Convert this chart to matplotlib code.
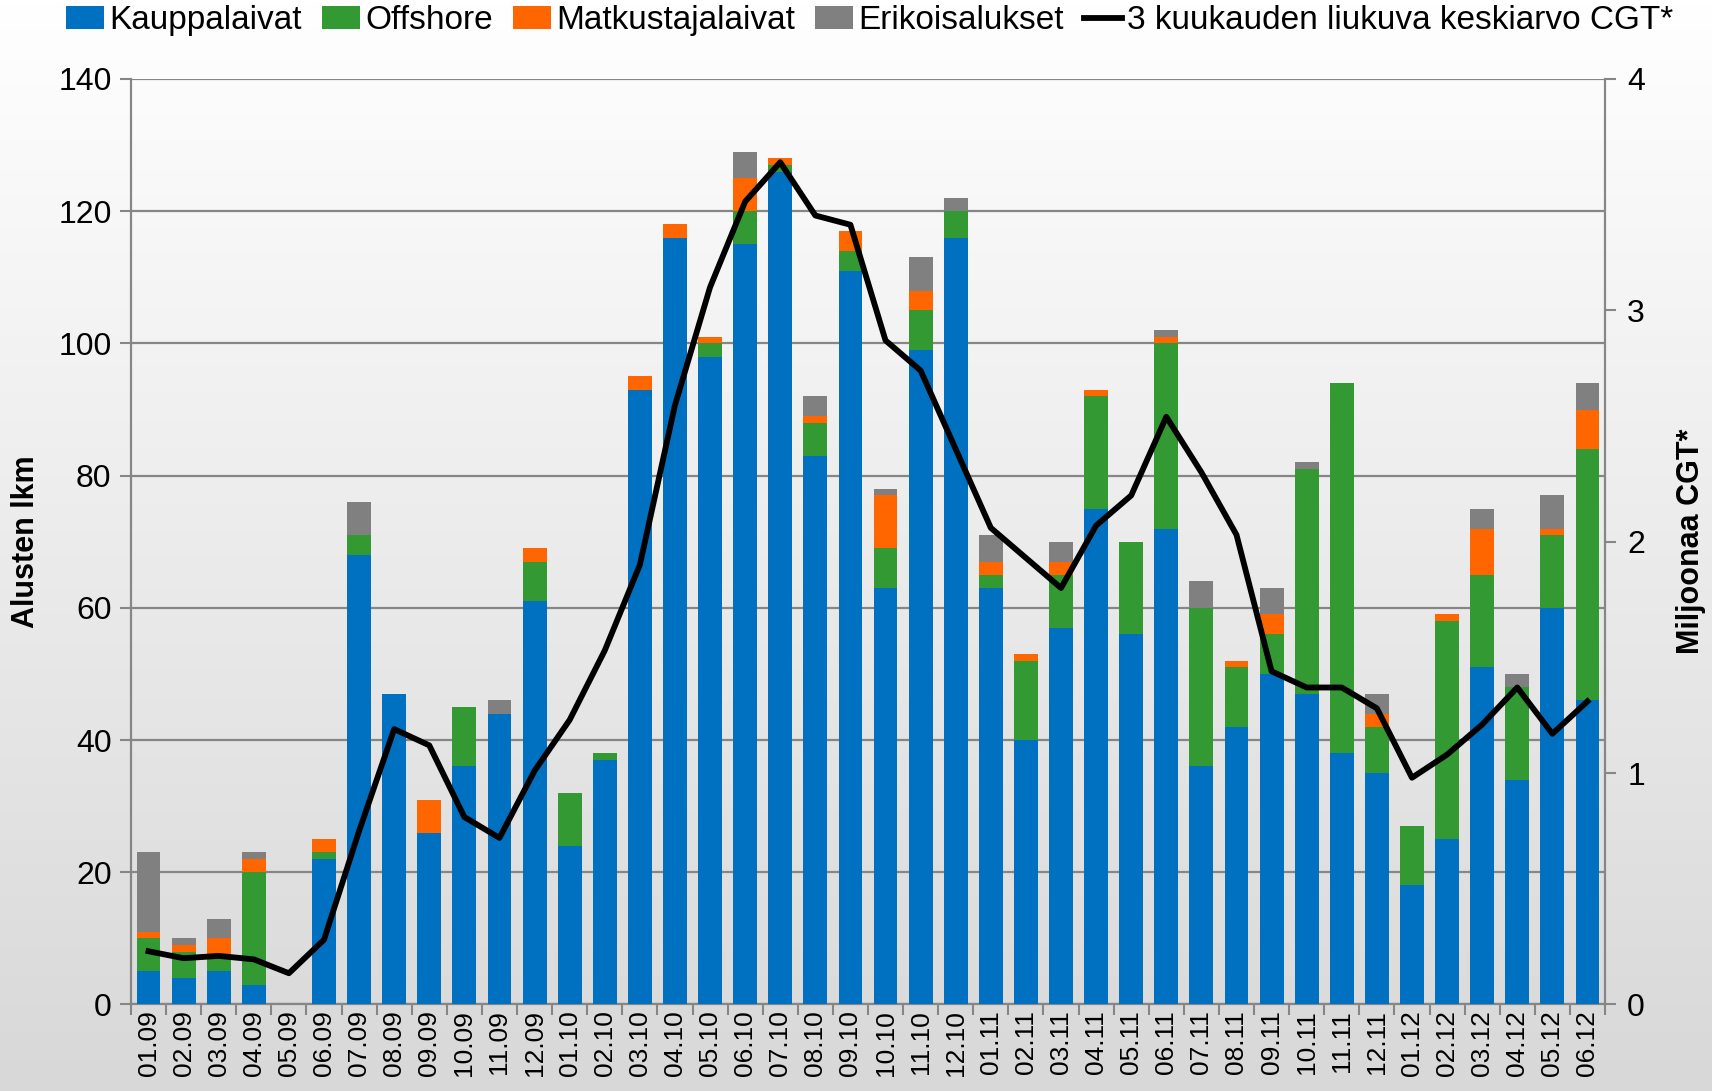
import numpy as np
import matplotlib
matplotlib.use("Agg")
import matplotlib.pyplot as plt
from matplotlib.colors import LinearSegmentedColormap

plt.rcParams['font.family'] = ['Liberation Sans', 'DejaVu Sans']

months = ['01.09', '02.09', '03.09', '04.09', '05.09', '06.09', '07.09', '08.09', '09.09', '10.09', '11.09', '12.09',
          '01.10', '02.10', '03.10', '04.10', '05.10', '06.10', '07.10', '08.10', '09.10', '10.10', '11.10', '12.10',
          '01.11', '02.11', '03.11', '04.11', '05.11', '06.11', '07.11', '08.11', '09.11', '10.11', '11.11', '12.11',
          '01.12', '02.12', '03.12', '04.12', '05.12', '06.12']

kauppa = [5, 4, 5, 3, 0, 22, 68, 47, 26, 36, 44, 61,
          24, 37, 93, 116, 98, 115, 126, 83, 111, 63, 99, 116,
          63, 40, 57, 75, 56, 72, 36, 42, 50, 47, 38, 35,
          18, 25, 51, 34, 60, 46]
offshore = [5, 4, 2, 17, 0, 1, 3, 0, 0, 9, 0, 6,
            8, 1, 0, 0, 2, 5, 1, 5, 3, 6, 6, 4,
            2, 12, 8, 17, 14, 28, 24, 9, 6, 34, 56, 7,
            9, 33, 14, 14, 11, 38]
matkustaja = [1, 1, 3, 2, 0, 2, 0, 0, 5, 0, 0, 2,
              0, 0, 2, 2, 1, 5, 1, 1, 3, 8, 3, 0,
              2, 1, 2, 1, 0, 1, 0, 1, 3, 0, 0, 2,
              0, 1, 7, 0, 1, 6]
erikois = [12, 1, 3, 1, 0, 0, 5, 0, 0, 0, 2, 0,
           0, 0, 0, 0, 0, 4, 0, 3, 0, 1, 5, 2,
           4, 0, 3, 0, 0, 1, 4, 0, 4, 1, 0, 3,
           0, 0, 3, 2, 5, 4]
cgt_avg = [0.23, 0.20, 0.21, 0.195, 0.135, 0.28, 0.75, 1.19, 1.12, 0.81, 0.72, 1.01,
           1.23, 1.53, 1.90, 2.59, 3.10, 3.47, 3.64, 3.41, 3.37, 2.87, 2.74, 2.40,
           2.06, 1.93, 1.80, 2.07, 2.20, 2.54, 2.30, 2.03, 1.44, 1.37, 1.37, 1.28,
           0.98, 1.08, 1.21, 1.37, 1.17, 1.31]

series = [('Kauppalaivat', kauppa, '#0070C0'),
          ('Offshore', offshore, '#339933'),
          ('Matkustajalaivat', matkustaja, '#FF6600'),
          ('Erikoisalukset', erikois, '#808080')]

axis_gray = '#868686'

fig = plt.figure(figsize=(17.12, 10.91), dpi=100)

# background gradient over the whole figure
bg = fig.add_axes([0, 0, 1, 1], zorder=-10)
grad = np.linspace(0, 1, 256).reshape(-1, 1)
cmap = LinearSegmentedColormap.from_list('bg', ['#ffffff', '#d8d8d8'])
bg.imshow(grad, aspect='auto', cmap=cmap, extent=[0, 1, 0, 1])
bg.axis('off')

ax = fig.add_axes([0.0765, 0.0793, 0.861, 0.8483])
ax.patch.set_alpha(0)
x = np.arange(len(months))
bottom = np.zeros(len(months))
handles = []
for name, vals, col in series:
    vals = np.array(vals, dtype=float)
    b = ax.bar(x, vals, 0.68, bottom=bottom, color=col, label=name, zorder=3)
    handles.append(b)
    bottom += vals

ax.set_xlim(-0.5, len(months) - 0.5)
ax.set_ylim(0, 140)
ax.set_yticks(np.arange(0, 141, 20))
ax.yaxis.grid(True, color=axis_gray, lw=1.6)
ax.set_axisbelow(True)
ax.set_xticks(x)
ax.set_xticklabels(months, rotation=90, fontsize=19)
ax.set_xticks(np.arange(-0.5, len(months), 1), minor=True)
ax.tick_params(axis='x', which='major', length=0, pad=4)
ax.tick_params(axis='x', which='minor', length=8, width=1.5, color=axis_gray)
ax.tick_params(axis='y', length=8, width=1.5, color=axis_gray, labelsize=23, pad=6)
for s in ['top', 'right']:
    ax.spines[s].set_visible(False)
for s in ['left', 'bottom']:
    ax.spines[s].set_color(axis_gray)
    ax.spines[s].set_linewidth(1.6)
ax.set_ylabel('Alusten lkm', fontsize=22, fontweight='bold', labelpad=12)

ax2 = ax.twinx()
line, = ax2.plot(x, cgt_avg, color='black', lw=4.2, zorder=5,
                 label='3 kuukauden liukuva keskiarvo CGT*')
ax2.set_ylim(0, 4)
ax2.set_yticks(np.arange(0, 5, 1))
ax2.tick_params(axis='y', length=8, width=1.5, color=axis_gray, labelsize=23, pad=8)
for s in ['top', 'left', 'bottom']:
    ax2.spines[s].set_visible(False)
ax2.spines['right'].set_color(axis_gray)
ax2.spines['right'].set_linewidth(1.6)
ax2.set_ylabel('Miljoonaa CGT*', fontsize=22, fontweight='bold', labelpad=22)

handles.append(line)
fig.legend(handles=handles, loc='center', bbox_to_anchor=(0.508, 0.981), ncol=5,
           frameon=False, fontsize=24, handlelength=1.15, handletextpad=0.15,
           columnspacing=0.6, borderpad=0)

fig.savefig('out.png', dpi=100)
plt.close('all')
